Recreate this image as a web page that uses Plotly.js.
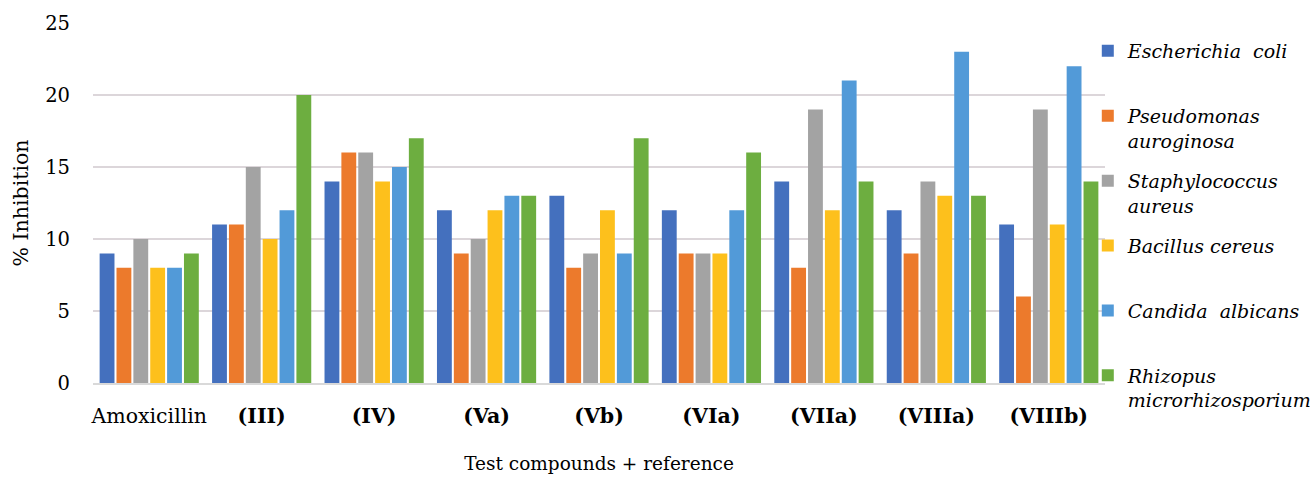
<!DOCTYPE html>
<html>
<head>
<meta charset="utf-8">
<script src="https://cdn.plot.ly/plotly-3.0.1.min.js"></script>
<style>html,body{margin:0;padding:0;background:#fff;}#chart{width:1315px;height:477px;}</style>
</head>
<body>
<div id="chart"></div>
<script>
const categories = ["Amoxicillin", "<b>(III)</b>", "<b>(IV)</b>", "<b>(Va)</b>", "<b>(Vb)</b>", "<b>(VIa)</b>", "<b>(VIIa)</b>", "<b>(VIIIa)</b>", "<b>(VIIIb)</b>"];
const seriesNames = [
  "Escherichia\u00a0\u00a0coli<br>\u00a0",
  "Pseudomonas<br>auroginosa",
  "Staphylococcus<br>aureus",
  "Bacillus cereus<br>\u00a0",
  "Candida\u00a0\u00a0albicans<br>\u00a0",
  "Rhizopus<br>microrhizosporium"
];
const eColi       = [9, 11, 14, 12, 13, 12, 14, 12, 11];
const pseudomonas = [8, 11, 16, 9, 8, 9, 8, 9, 6];
const staph       = [10, 15, 16, 10, 9, 9, 19, 14, 19];
const bacillus    = [8, 10, 14, 12, 12, 9, 12, 13, 11];
const candida     = [8, 12, 15, 13, 9, 12, 21, 23, 22];
const rhizopus    = [9, 20, 17, 13, 17, 16, 14, 13, 14];
const yTicks = [0, 5, 10, 15, 20, 25];

const seriesValues = [eColi, pseudomonas, staph, bacillus, candida, rhizopus];
const colors = ["#4470BE", "#EC7A2C", "#A3A3A3", "#FDC01C", "#529AD8", "#6DAE40"];

const traces = seriesValues.map((vals, i) => ({
  type: "bar",
  name: seriesNames[i],
  legendgroup: "g" + i,
  x: categories,
  y: vals,
  marker: {color: colors[i], line: {width: 0}},
  hoverinfo: "y"
}));

const serif = "DejaVu Serif, Liberation Serif, Times New Roman, serif";
const layout = {
  width: 1315, height: 477,
  margin: {l: 93, r: 210, t: 23, b: 94, autoexpand: false},
  paper_bgcolor: "#ffffff",
  plot_bgcolor: "#ffffff",
  barmode: "group",
  bargap: 0.1,
  bargroupgap: 0.12,
  font: {family: serif, color: "#000000", size: 20},
  xaxis: {
    type: "category",
    automargin: false,
    showgrid: false,
    showline: true,
    linecolor: "#d9d9d9",
    linewidth: 1.5,
    ticks: "",
    ticklabelstandoff: 14,
    tickfont: {family: serif, size: 20.5, color: "#000"},
    title: {text: "Test compounds + reference", font: {family: serif, size: 18.5, color: "#000"}, standoff: 30}
  },
  yaxis: {
    automargin: false,
    range: [0, 25],
    tickvals: yTicks,
    ticktext: yTicks.map(String),
    showgrid: true,
    gridcolor: "#dcd6da",
    gridwidth: 1.5,
    zeroline: false,
    showline: false,
    ticks: "",
    ticklabelstandoff: 22,
    tickfont: {family: serif, size: 19.5, color: "#000"},
    title: {text: "% Inhibition", font: {family: serif, size: 20.5, color: "#000"}, standoff: 10}
  },
  showlegend: true,
  legend: {
    x: 0.983, xanchor: "left",
    y: 0.975, yanchor: "top",
    valign: "top",
    maxheight: 470,
    font: {family: serif, size: 19, color: "#000", style: "italic"},
    bgcolor: "rgba(0,0,0,0)",
    tracegroupgap: 12.5,
    itemwidth: 30
  }
};

Plotly.newPlot("chart", traces, layout, {displayModeBar: false, staticPlot: true});
</script>
</body>
</html>
